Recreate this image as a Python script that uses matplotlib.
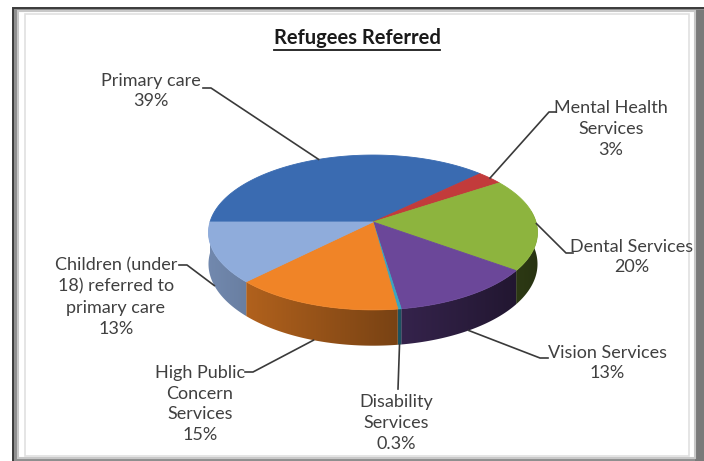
import numpy as np
import matplotlib.pyplot as plt
from matplotlib.patches import Rectangle, Polygon
from matplotlib.colors import to_rgb

# data
names = ['Primary care', 'Mental Health\nServices', 'Dental Services', 'Vision Services',
         'Disability\nServices', 'High Public\nConcern\nServices',
         'Children (under\n18) referred to\nprimary care']
pcts = ['39%', '3%', '20%', '13%', '0.3%', '15%', '13%']
values = [39, 3, 20, 13, 0.3, 15, 13]
colors = ['#3A6BB1', '#C23B3B', '#8DB43E', '#6B4799', '#3AA6C0', '#F08427', '#8FACDB']

# label layout: block centre, leader start, horizontal stub
lab_pos = [(151, 91), (611, 129), (632, 257), (607, 363), (396, 423), (200, 404), (116, 297)]
lead_start = [(203, 88), (556, 112), (573, 253), (548, 358), (398, 389), (245, 372), (179, 265)]
stub = [8, -7, -7, -8, 0, 8, 8]

plt.rcParams['font.family'] = ['Lato', 'DejaVu Sans']

fig = plt.figure(figsize=(7.04, 4.61), dpi=100)
ax = fig.add_axes([0, 0, 1, 1])
ax.set_xlim(0, 704)
ax.set_ylim(461, 0)
ax.axis('off')

# frame
ax.add_patch(Rectangle((13, 8), 700, 470, facecolor='#8f8f8f', edgecolor='#3a3a3a', lw=1.4, zorder=0))
ax.add_patch(Rectangle((695, 10), 10, 460, facecolor='#7a7a7a', edgecolor='none', zorder=0))
ax.add_patch(Rectangle((18, 11), 677, 447, facecolor='white', edgecolor='#c8c8c8', lw=1.5, zorder=0))
ax.add_patch(Rectangle((25, 14), 664, 442, facecolor='none', edgecolor='#e0e0e0', lw=1.2, zorder=0))

# 3d pie geometry
CX, CY, A, B, K, D = 373, 222, 163, 76, 0.135, 31


def proj(t, r=1.0):
    x = r * np.cos(t)
    y = r * np.sin(t)
    w = 1 + K * y
    return CX + A * x / w, CY - B * y / w, w


vals = np.array(values, dtype=float)
span = vals / vals.sum() * 2 * np.pi
starts = np.pi - np.concatenate([[0], np.cumsum(span)[:-1]])
ends = starts - span

# side walls with a left-to-right darkening gradient
gx = np.linspace(CX - A - 5, CX + A + 5, 400)
shade = 0.80 - 0.52 * (gx - gx[0]) / (gx[-1] - gx[0])
for i in range(len(vals)):
    lo = max(ends[i], -np.pi - 0.15)
    hi = min(starts[i], 0.15)
    if lo >= hi:
        continue
    ts = np.linspace(hi, lo, 200)
    xs, ys, ws = proj(ts)
    pts = list(zip(xs, ys)) + list(zip(xs[::-1], (ys + D / ws)[::-1]))
    poly = Polygon(pts, closed=True, facecolor='none', edgecolor='none')
    ax.add_patch(poly)
    img = np.array(to_rgb(colors[i]))[None, None, :] * shade[None, :, None]
    im = ax.imshow(img, extent=(gx[0], gx[-1], CY + 140, CY - 120), aspect='auto',
                   interpolation='bilinear', zorder=1)
    im.set_clip_path(poly)

# top faces
for i in range(len(vals)):
    ts = np.linspace(starts[i], ends[i], max(int(np.degrees(span[i])) * 2, 2))
    xs, ys, _ = proj(ts)
    pts = [(CX, CY)] + list(zip(xs, ys))
    ax.add_patch(Polygon(pts, closed=True, facecolor=colors[i], edgecolor=colors[i],
                         lw=0.6, zorder=2))

# labels and leaders
for i in range(len(vals)):
    ax.text(lab_pos[i][0], lab_pos[i][1], names[i] + '\n' + pcts[i], ha='center', va='center',
            fontsize=13, color='#404040', linespacing=1.38, zorder=3)
    m = (starts[i] + ends[i]) / 2
    axx, ayy, w = proj(m)
    if np.sin(m) < -0.2:
        ayy = ayy + D / w
    sx, sy = lead_start[i]
    ax.plot([sx, sx + stub[i], axx], [sy, sy, ayy], color='#3a3a3a', lw=1.2,
            solid_joinstyle='round', zorder=3)

# title with underline
title = ax.text(357, 38, 'Refugees Referred', ha='center', va='center', fontsize=14.5,
                fontweight='bold', color='#1a1a1a', zorder=3)
fig.canvas.draw()
bb = title.get_window_extent(fig.canvas.get_renderer())
ax.plot([bb.x0, bb.x1], [50, 50], color='#1a1a1a', lw=1.3, zorder=3)

fig.savefig('out.png', dpi=100)
